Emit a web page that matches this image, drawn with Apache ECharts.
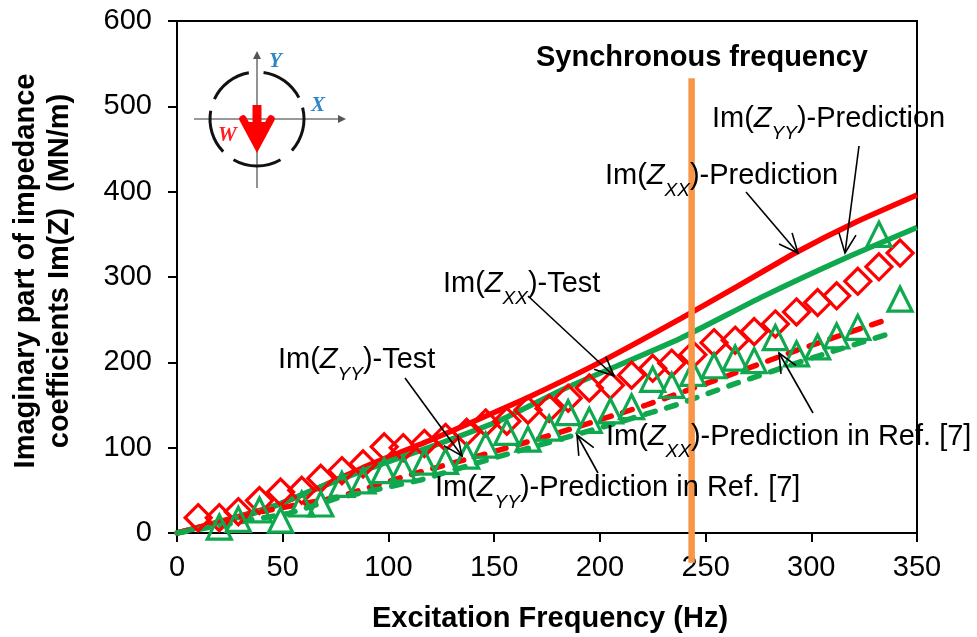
<!DOCTYPE html>
<html><head><meta charset="utf-8">
<script src="https://cdn.jsdelivr.net/npm/echarts@6/dist/echarts.min.js"></script>
<style>html,body{margin:0;padding:0;background:#fff}#c{width:977px;height:637px}</style>
</head><body><div id="c"></div>
<script>
const xTicks = [0,50,100,150,200,250,300,350];
const yTicks = [0,100,200,300,400,500,600];
const diamondFreq = [10,20,29,39,49,59,68,78,88,98,107,117,127,137,146,156,166,176,185,195,205,215,225,234,244,254,264,273,283,293,303,312,322,332,342];
const zxxTest = [18,18,25,38,48,50,64,73,81,101,100,105,112,118,129,131,144,146,158,170,173,185,193,199,209,223,226,236,245,259,270,278,295,312,328];
const triangleFreq = [20,29,39,49,59,68,78,88,98,107,117,127,137,146,156,166,176,185,195,205,215,225,234,244,254,264,273,283,293,303,312,322,332,342];
const zyyTest = [7,16,27,15,34,34,57,61,73,75,83,84,90,103,118,110,123,141,132,143,148,180,173,187,196,205,202,229,210,218,231,241,350,274];
const zxxPred = [[0,0],[44,30],[68,54],[91,80],[120,109],[147,138],[167,160],[200,200],[238,251],[265,289],[293,329],[320,363],[350,396]];
const zyyPred = [[0,0],[40,26],[68,54],[97,81],[120,101],[151,130],[184,170],[238,228],[277,277],[316,322],[350,358]];
const zxxRef = [[0,0],[40,25],[76,42],[110,68],[148,94],[180,117],[222,150],[258,182],[293,214],[338,252]];
const zyyRef = [[0,0],[53,23],[76,41],[115,62],[150,88],[180,109],[208,129],[236,150],[264,175],[300,205],[340,236]];
const syncFreq = 243.4;
const RED='#FF0000', GREEN='#0FA84F', ORANGE='#F79646';
const font='"Liberation Sans",Arial,sans-serif';
const FS=29;
const zip=(a,b)=>a.map((v,i)=>[v,b[i]]);
const line=(name,data,color,dash)=>({name,type:'line',data,symbol:'none',silent:true,z:3,smooth:dash?0:0.2,
  lineStyle:{color,width:5.5,type:dash?[10,12]:'solid',cap:dash?'round':'butt'}});
const scat=(name,data,symbol,size,color)=>({name,type:'scatter',data,symbol,symbolSize:size,silent:true,z:4,
  itemStyle:{color:'rgba(255,255,255,0)',borderColor:color,borderWidth:3.2,opacity:1}});
const chart=echarts.init(document.getElementById('c'),null,{renderer:'canvas'});
const lbl=(x,y,sub,b)=>({type:'text',left:x,top:y,z:10,silent:true,style:{
  text:`{n|Im(}{i|Z}{s|${sub}}{n|${b}}`,rich:{
    n:{fontFamily:font,fontSize:FS,color:'#000',lineHeight:29,verticalAlign:'bottom',padding:[0,0,10,0]},
    i:{fontFamily:font,fontSize:FS,fontStyle:'italic',color:'#000',lineHeight:29,verticalAlign:'bottom',padding:[0,0,10,0]},
    s:{fontFamily:font,fontSize:19,fontStyle:'italic',color:'#000',verticalAlign:'bottom',lineHeight:19}}}});
const arrow=(x1,y1,x2,y2)=>{
  const t=Math.atan2(y2-y1,x2-x1),L=21,w=0.42;
  return [{type:'line',silent:true,z:9,shape:{x1,y1,x2,y2},style:{stroke:'#000',lineWidth:1.6}},
   {type:'polyline',silent:true,z:9,shape:{points:[[x2-L*Math.cos(t-w),y2-L*Math.sin(t-w)],[x2,y2],[x2-L*Math.cos(t+w),y2-L*Math.sin(t+w)]]},style:{stroke:'#000',lineWidth:1.6,fill:'none'}}];
};
const arcs=[[-82,-27],[-155,-100],[-14,42],[60,120],[136,190]].map(([a,b])=>({type:'arc',silent:true,z:7,
  shape:{cx:257,cy:119,r:47,startAngle:a*Math.PI/180,endAngle:b*Math.PI/180},style:{stroke:'#111',lineWidth:3,fill:'none'}}));
const ser=f=>({fontFamily:'"Liberation Serif",serif',fontWeight:'bold',fontStyle:'italic',fontSize:21,fill:f});
chart.setOption({
  animation:false,backgroundColor:'#fff',
  grid:{left:177,top:21,right:60,bottom:104,outerBoundsMode:'none',containLabel:false,show:true,borderColor:'#000',borderWidth:2,backgroundColor:'transparent'},
  xAxis:{type:'value',min:0,max:350,interval:50,name:'Excitation Frequency (Hz)',nameLocation:'middle',nameGap:71,
    nameTextStyle:{fontFamily:font,fontWeight:'bold',fontSize:FS,color:'#000',padding:[0,0,0,6]},
    axisLine:{onZero:false,lineStyle:{color:'#000',width:2}},axisTick:{length:9,lineStyle:{color:'#000',width:2}},
    axisLabel:{fontFamily:font,fontSize:FS,color:'#000',margin:20,customValues:xTicks},splitLine:{show:false}},
  yAxis:{type:'value',min:0,max:600,interval:100,name:'Imaginary part of impedance\ncoefficients Im(Z)  (MN/m)',nameLocation:'middle',nameRotate:90,nameGap:100,
    nameTextStyle:{fontFamily:font,fontWeight:'bold',fontSize:FS,color:'#000',lineHeight:34,padding:[0,0,0,12]},
    axisLine:{lineStyle:{color:'#000',width:2}},axisTick:{length:9,lineStyle:{color:'#000',width:2}},
    axisLabel:{fontFamily:font,fontSize:FS,color:'#000',margin:25,customValues:yTicks},splitLine:{show:false}},
  series:[
    line('Im(Zxx)-Prediction',zxxPred,RED,false),
    line('Im(Zyy)-Prediction',zyyPred,GREEN,false),
    line('Im(Zxx)-Prediction in Ref. [7]',zxxRef,RED,true),
    line('Im(Zyy)-Prediction in Ref. [7]',zyyRef,GREEN,true),
    scat('Im(Zxx)-Test',zip(diamondFreq,zxxTest),'diamond',26,RED),
    scat('Im(Zyy)-Test',zip(triangleFreq,zyyTest),'triangle',24,GREEN),
    {name:'Synchronous frequency',type:'line',data:[[syncFreq,-35],[syncFreq,533]],symbol:'none',silent:true,clip:false,z:6,lineStyle:{color:ORANGE,width:6.5}}
  ],
  graphic:[
    {type:'text',left:536,top:43,z:10,silent:true,style:{text:'Synchronous frequency',fontFamily:font,fontWeight:'bold',fontSize:FS,fill:'#000'}},
    lbl(712,104,'YY',')-Prediction'),
    lbl(605,161,'XX',')-Prediction'),
    lbl(443,269,'XX',')-Test'),
    lbl(278,345,'YY',')-Test'),
    lbl(606,422,'XX',')-Prediction in Ref. [7]'),
    lbl(435,473,'YY',')-Prediction in Ref. [7]'),
    ...arrow(859,146,845,253),...arrow(746,192,798,253),...arrow(528,296,614,376),...arrow(405,378,462,456),
    ...arrow(813,413,779,353),...arrow(598,473,577,435),
    {type:'polyline',silent:true,z:6,shape:{points:[[194,119],[343,119]]},style:{stroke:'#777',lineWidth:1.6,fill:'none'}},
    {type:'polygon',silent:true,z:6,shape:{points:[[346,119],[338,115],[338,123]]},style:{fill:'#555'}},
    {type:'polyline',silent:true,z:6,shape:{points:[[257,188],[257,54]]},style:{stroke:'#777',lineWidth:1.6,fill:'none'}},
    {type:'polygon',silent:true,z:6,shape:{points:[[257,51],[253,59],[261,59]]},style:{fill:'#555'}},
    ...arcs,
    {type:'line',silent:true,z:8,shape:{x1:257,y1:105,x2:257,y2:140},style:{stroke:RED,lineWidth:9}},
    {type:'polyline',silent:true,z:8,shape:{points:[[243,119],[257,145],[271,119]]},style:{stroke:RED,lineWidth:7.5,fill:'none',lineCap:'round'}},
    {type:'polygon',silent:true,z:8,shape:{points:[[245,122],[269,122],[257,146]]},style:{fill:RED}},
    {type:'text',left:269,top:51,z:8,silent:true,style:{text:'Y',...ser('#2E86C8')}},
    {type:'text',left:311,top:95,z:8,silent:true,style:{text:'X',...ser('#2E86C8')}},
    {type:'text',left:218,top:125,z:8,silent:true,style:{text:'W',...ser('#FF2020')}}
  ]
});
</script></body></html>
